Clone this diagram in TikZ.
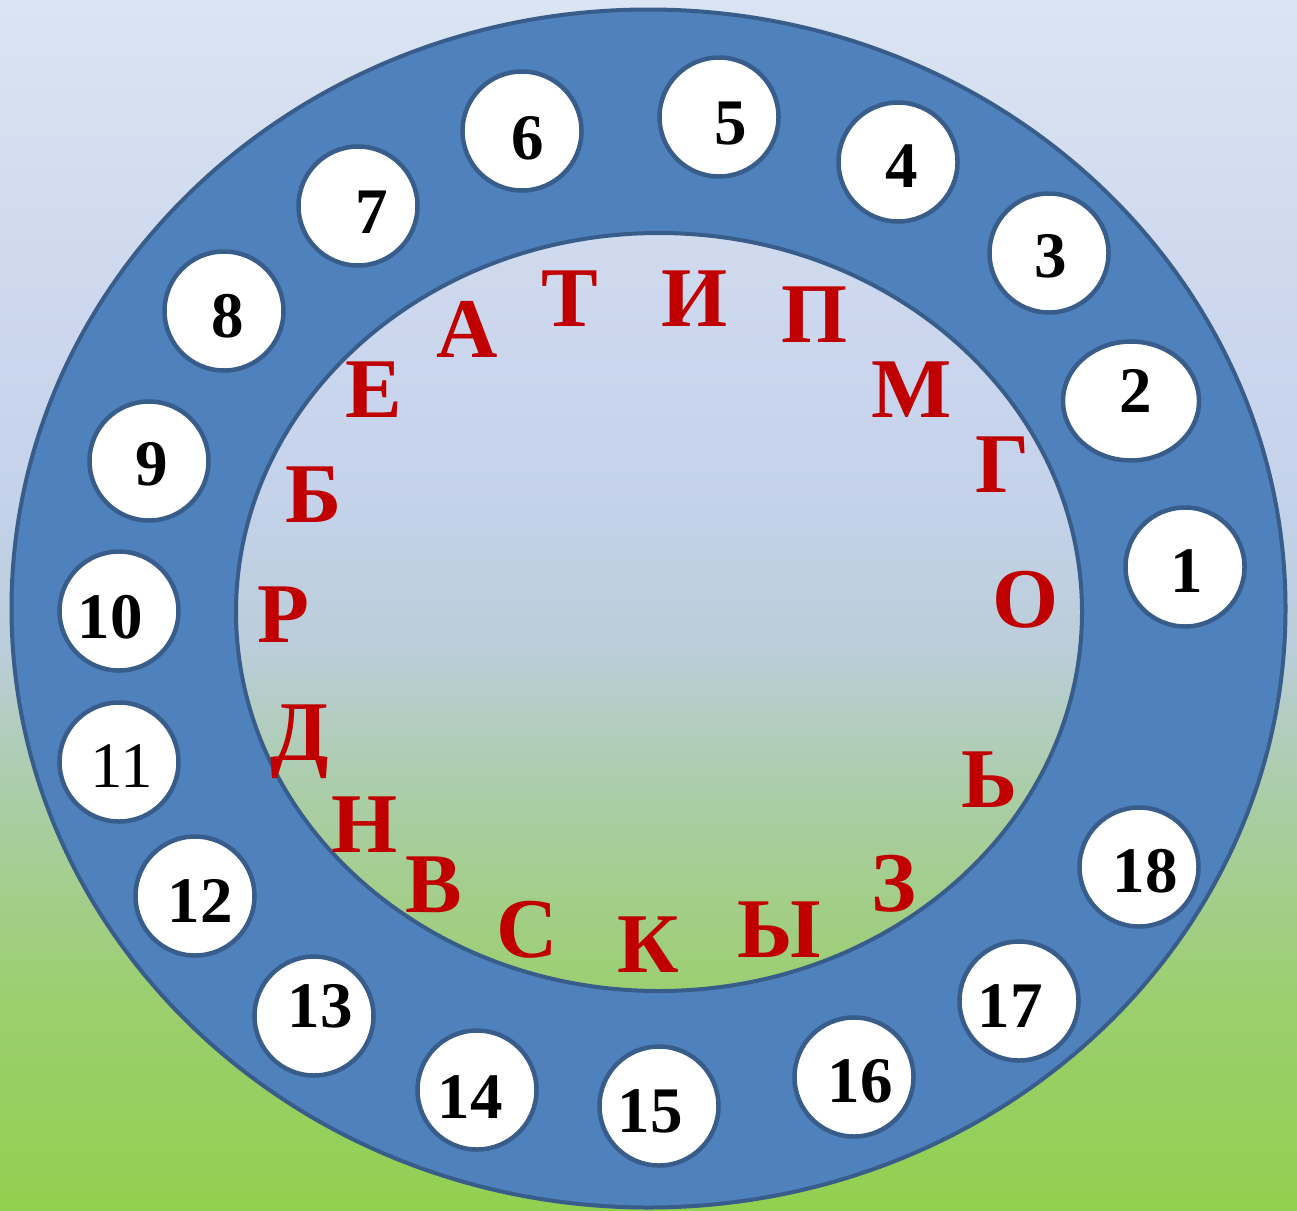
\documentclass[tikz,border=0pt]{standalone}
\usepackage{fontspec}
\setmainfont{Liberation Serif}
\usetikzlibrary{shapes.geometric}

\definecolor{ringblue}{HTML}{4F81BD}
\definecolor{ringedge}{HTML}{385D8A}
\definecolor{letterred}{HTML}{C00000}
\definecolor{bgtop}{RGB}{218,228,242}
\definecolor{bgblueA}{RGB}{205,216,238}
\definecolor{bgblueB}{RGB}{196,210,234}
\definecolor{bgmid}{RGB}{186,205,216}
\definecolor{bggreenA}{RGB}{170,205,165}
\definecolor{bggreenB}{RGB}{155,207,110}
\definecolor{bggreen}{RGB}{146,208,80}

\pgfdeclareverticalshading{skyfield}{100bp}{
  color(0bp)=(bggreen); color(25bp)=(bggreen); color(33.7bp)=(bggreenB);
  color(41.9bp)=(bggreenA); color(48bp)=(bgmid); color(54.3bp)=(bgblueB);
  color(62.6bp)=(bgblueA); color(75bp)=(bgtop); color(100bp)=(bgtop)}

\begin{document}
\begin{tikzpicture}
  [
    x = 1pt, y = -1pt,
    disk/.style = {ellipse, draw = ringedge, line width = 4.5pt, fill = white,
        minimum height = 119pt, inner sep = 0pt},
    num/.style = {anchor = base, inner sep = 0pt,
        font = \fontsize{65}{70}\selectfont\bfseries},
    letter/.style = {anchor = base, inner sep = 0pt, text = letterred,
        font = \fontsize{85}{90}\selectfont\bfseries},
  ]

  \useasboundingbox (0,0) rectangle (1297,1210);
  \shade [shading = skyfield] (0,0) rectangle (1297,1210);

  % the ring
  \fill [ringblue, even odd rule]
    (648.5,608.5) ellipse [x radius = 637pt, y radius = 599pt]
    (659,612) ellipse [x radius = 423pt, y radius = 379pt];
  \draw [ringedge, line width = 4pt]
    (648.5,608.5) ellipse [x radius = 637pt, y radius = 599pt];
  \draw [ringedge, line width = 4pt]
    (659,612) ellipse [x radius = 423pt, y radius = 379pt];

  % numbered disks
  \foreach \n/\cx/\cy/\w/\tx/\ty in {
      1/1185/567/119/1187/592, 2/1131/401/136/1136/412,
      3/1049/253/119/1051/277, 4/898/162/119/902/187,
      5/719/117/119/731/144, 6/522/131/119/528/159,
      7/358/206/119/372/233, 8/224/311/119/228/337,
      9/149/461/119/152/485, 10/119/611/119/110/638,
      11/119/762/119/122/787, 12/195/896/119/200/922,
      13/314/1016/119/320/1027, 14/477/1090/119/470/1118,
      15/659/1106/119/650/1132, 16/854/1077/119/860/1102,
      17/1019/1001/119/1010/1027, 18/1139/867/119/1145/892}
    {
      \node [disk, minimum width = \w pt] (d\n) at (\cx,\cy) {};
      \ifnum\n=11
        \node [num, font = \fontsize{65}{70}\selectfont] (n\n) at (\tx,\ty) {\n};
      \else
        \node [num] (n\n) at (\tx,\ty) {\n};
      \fi
    }

  % letters inside
  \foreach \l/\x/\y [count = \i] in {
      Т/570/326, И/695/326, П/815/342, М/912/417, Г/1003/492, О/1026/627,
      Ь/990/807, З/894/911, Ы/779/957, К/648/972, С/527/957, В/434/912,
      Н/365/852, Д/300/760, Р/283/642, Б/314/522, Е/374/417, А/467/357}
    {
      \node [letter] (let\i) at (\x,\y) {\l};
    }

\end{tikzpicture}
\end{document}
